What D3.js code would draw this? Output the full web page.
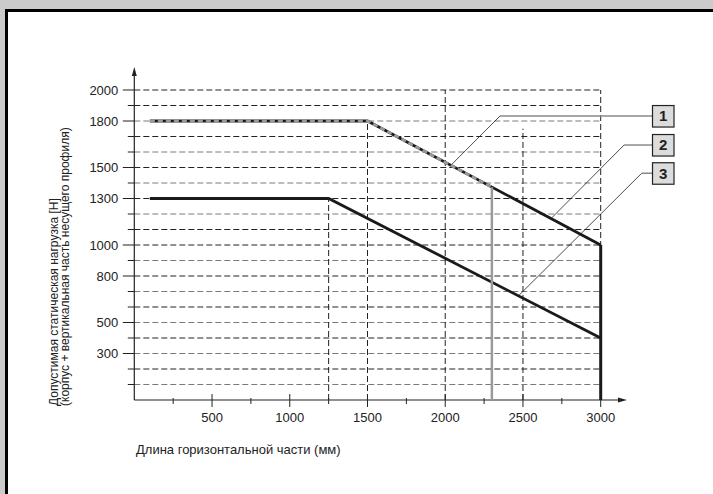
<!DOCTYPE html>
<html>
<head>
<meta charset="utf-8">
<script src="https://cdn.jsdelivr.net/npm/d3@7"></script>
<style>
  html, body { margin: 0; padding: 0; background: #cbcbcb; }
  svg { display: block; }
  text { font-family: "Liberation Sans", Arial, Helvetica, sans-serif; fill: #222; }
</style>
</head>
<body>
<svg id="chart" width="713" height="494"></svg>
<script>
// Load limit data (length of horizontal part, mm -> permissible static load, N)
const curve1 = [[100, 1800], [1500, 1800], [2300, 1373]];   // ends with cut-off at 2300 mm
const curve1Cut = 2300;
const curve2 = [[100, 1800], [1500, 1800], [3000, 1000]];
const curve3 = [[100, 1300], [1250, 1300], [3000, 400]];
const maxLength = 3000;

const yTickLabels = [300, 500, 800, 1000, 1300, 1500, 1800, 2000];
const yGridValues = d3.range(100, 2001, 100);
const yGridGray = [100, 300, 500, 700, 900, 1200, 1400, 1600, 1800];
const xMajorTicks = [500, 1000, 1500, 2000, 2500, 3000];
const xMinorTicks = [250, 750, 1250, 1750, 2250, 2750];
// vertical guide lines: [x, top value]
const xGuides = [[1250, 1300], [1500, 1800], [2000, 2000], [2500, 1750], [3000, 2000]];

// callouts: label, leader target on the curve, knee point
const callouts = [
  { label: "1", target: [2042, 1520], knee: [2352, 1832] },
  { label: "2", target: [2685, 1175], knee: [3150, 1645] },
  { label: "3", target: [2474, 675],  knee: [3264, 1463] }
];
const calloutBoxX = 3330;

const yTitle1 = "Допустимая статическая нагрузка [Н]";
const yTitle2 = "(корпус + вертикальная часть несущего профиля)";
const xTitle = "Длина горизонтальной части (мм)";

const svg = d3.select("#chart");

// page frame
svg.append("rect").attr("x", 5).attr("y", 9).attr("width", 708).attr("height", 485).attr("fill", "#fff");
svg.append("rect").attr("x", 5).attr("y", 9).attr("width", 708).attr("height", 3).attr("fill", "#000");
svg.append("rect").attr("x", 5).attr("y", 9).attr("width", 3).attr("height", 485).attr("fill", "#000");

const x = d3.scaleLinear().domain([0, 3000]).range([134.3, 600.7]);
const y = d3.scaleLinear().domain([0, 2000]).range([400, 90]);

const g = svg.append("g");

// horizontal dashed grid
g.selectAll("line.hgrid").data(yGridValues).join("line")
  .attr("class", "hgrid")
  .attr("x1", x(0)).attr("x2", x(maxLength))
  .attr("y1", d => y(d)).attr("y2", d => y(d))
  .attr("stroke", d => yGridGray.includes(d) ? "#7a7a7a" : "#222")
  .attr("stroke-width", 1)
  .attr("stroke-dasharray", "6,3");

// vertical dashed guides
g.selectAll("line.vgrid").data(xGuides).join("line")
  .attr("class", "vgrid")
  .attr("x1", d => x(d[0])).attr("x2", d => x(d[0]))
  .attr("y1", y(0)).attr("y2", d => y(d[1]))
  .attr("stroke", "#222").attr("stroke-width", 1)
  .attr("stroke-dasharray", "6,3");

// y ticks (long for labelled values, short otherwise)
g.selectAll("line.ytick").data(yGridValues).join("line")
  .attr("class", "ytick")
  .attr("x1", d => yTickLabels.includes(d) ? x(0) - 11.5 : x(0) - 6.5)
  .attr("x2", x(0))
  .attr("y1", d => y(d)).attr("y2", d => y(d))
  .attr("stroke", "#222").attr("stroke-width", 1);

g.selectAll("text.ylabel").data(yTickLabels).join("text")
  .attr("class", "ylabel")
  .attr("x", x(0) - 16).attr("y", d => y(d))
  .attr("dy", "0.36em")
  .attr("text-anchor", "end")
  .attr("font-size", 13)
  .text(d => d);

// x ticks
g.selectAll("line.xmaj").data(xMajorTicks).join("line")
  .attr("x1", d => x(d)).attr("x2", d => x(d))
  .attr("y1", y(0) - 6).attr("y2", y(0) + 7)
  .attr("stroke", "#222").attr("stroke-width", 1);
g.selectAll("line.xmin").data(xMinorTicks).join("line")
  .attr("x1", d => x(d)).attr("x2", d => x(d))
  .attr("y1", y(0) - 2).attr("y2", y(0) + 4)
  .attr("stroke", "#222").attr("stroke-width", 1);
g.selectAll("text.xlabel").data(xMajorTicks).join("text")
  .attr("x", d => x(d)).attr("y", y(0) + 22)
  .attr("text-anchor", "middle")
  .attr("font-size", 13)
  .text(d => d);

// axes with arrow heads
g.append("line").attr("x1", x(0)).attr("x2", x(0)).attr("y1", y(0)).attr("y2", 74)
  .attr("stroke", "#222").attr("stroke-width", 1.2);
g.append("path").attr("d", `M${x(0)},67 L${x(0) - 2.5},76 L${x(0) + 2.5},76 Z`).attr("fill", "#222");
g.append("line").attr("x1", x(0)).attr("x2", 620).attr("y1", y(0)).attr("y2", y(0))
  .attr("stroke", "#222").attr("stroke-width", 1.2);
g.append("path").attr("d", `M627,${y(0)} L618,${y(0) - 2.5} L618,${y(0) + 2.5} Z`).attr("fill", "#222");

const line = d3.line().x(d => x(d[0])).y(d => y(d[1]));

// curve 3
g.append("path").datum(curve3).attr("d", line)
  .attr("fill", "none").attr("stroke", "#1a1a1a").attr("stroke-width", 2.8);
// curve 2 with vertical end at max length
g.append("path").datum(curve2).attr("d", line)
  .attr("fill", "none").attr("stroke", "#1a1a1a").attr("stroke-width", 2.8);
g.append("line")
  .attr("x1", x(maxLength)).attr("x2", x(maxLength))
  .attr("y1", y(curve2[curve2.length - 1][1])).attr("y2", y(0))
  .attr("stroke", "#1a1a1a").attr("stroke-width", 3);
// curve 1 drawn over curve 2 in grey, with the cut-off line
g.append("path").datum(curve1).attr("d", line)
  .attr("fill", "none").attr("stroke", "#9a9a9a").attr("stroke-width", 2.8)
  .attr("stroke-dasharray", "5,3");
g.append("line")
  .attr("x1", x(curve1Cut)).attr("x2", x(curve1Cut))
  .attr("y1", y(curve1[curve1.length - 1][1])).attr("y2", y(0))
  .attr("stroke", "#9a9a9a").attr("stroke-width", 2.5);

// callouts
callouts.forEach(c => {
  g.append("line")
    .attr("x1", x(c.target[0])).attr("y1", y(c.target[1]))
    .attr("x2", x(c.knee[0])).attr("y2", y(c.knee[1]))
    .attr("stroke", "#222").attr("stroke-width", 0.8);
  g.append("line")
    .attr("x1", x(c.knee[0])).attr("y1", y(c.knee[1]))
    .attr("x2", x(calloutBoxX)).attr("y2", y(c.knee[1]))
    .attr("stroke", "#8a8a8a").attr("stroke-width", 1.5);
  g.append("rect")
    .attr("x", x(calloutBoxX) + 0.5).attr("y", y(c.knee[1]) - 10.5)
    .attr("width", 21.5).attr("height", 21.5)
    .attr("fill", "#dcdcdc").attr("stroke", "#222").attr("stroke-width", 1.2);
  g.append("text")
    .attr("x", x(calloutBoxX) + 11.2).attr("y", y(c.knee[1]))
    .attr("dy", "0.36em").attr("text-anchor", "middle")
    .attr("font-size", 15).attr("font-weight", "bold")
    .text(c.label);
});

// axis titles
g.append("text")
  .attr("transform", `translate(58,406) rotate(-90)`)
  .attr("font-size", 12)
  .text(yTitle1);
g.append("text")
  .attr("transform", `translate(69,406) rotate(-90)`)
  .attr("font-size", 12)
  .text(yTitle2);
g.append("text")
  .attr("x", 136).attr("y", 454)
  .attr("font-size", 13)
  .text(xTitle);
</script>
</body>
</html>
